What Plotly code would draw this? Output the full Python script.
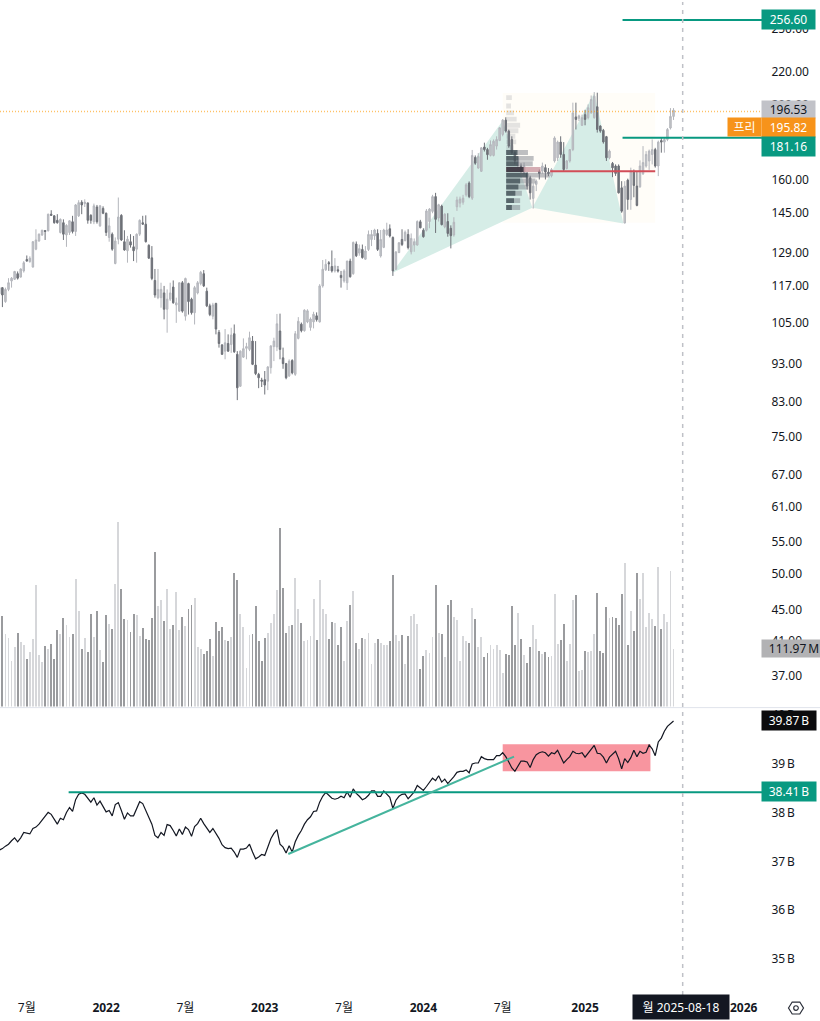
import pandas as pd
import plotly.graph_objects as go

W, H = 820, 1021

# weekly bars, 222 of them
weeks = pd.date_range("2021-05-03", periods=222, freq="7D")

highs = [
118.1,116.6,116.4,119.7,120.1,122.3,122.1,123.2,125.9,128.0,127.7,133.6,138.3,136.6,138.1,138.0,144.8,146.3,144.1,144.6,
142.8,142.4,140.4,142.0,143.9,149.0,150.7,150.7,151.1,149.6,144.6,149.2,148.6,148.6,148.0,145.3,143.1,137.0,135.0,151.9,
144.6,137.9,135.6,136.3,135.6,136.6,142.4,143.9,144.1,132.3,131.6,123.0,123.0,118.1,117.0,115.8,118.1,118.9,113.0,118.1,
118.7,119.9,118.1,113.0,117.0,118.7,122.3,122.6,116.4,111.0,111.3,111.3,102.7,98.4,103.0,101.4,103.4,104.4,96.5,96.7,
100.2,98.9,102.2,100.9,99.4,90.5,89.2,91.0,92.3,98.2,100.4,107.7,107.8,97.5,93.2,94.2,94.2,102.4,106.7,105.0,
109.2,109.2,106.6,108.4,108.2,117.6,126.3,126.6,125.9,129.9,127.0,124.1,122.3,122.9,126.0,126.8,133.4,133.4,132.2,132.2,
131.6,137.8,138.0,138.5,138.3,138.0,138.5,141.0,140.3,135.4,129.7,133.1,138.3,137.8,138.3,136.6,134.6,142.0,142.2,138.7,
146.8,147.2,153.1,154.0,149.1,148.7,145.0,145.0,139.9,143.3,152.3,152.3,153.1,158.5,159.3,174.8,172.0,173.2,176.3,178.6,
175.9,179.8,180.3,182.0,187.0,191.5,192.5,185.6,182.0,174.2,171.6,168.0,168.4,163.7,162.0,158.4,160.2,165.0,168.4,167.5,
165.7,165.7,182.0,179.7,182.0,178.9,169.7,175.3,201.0,201.0,194.0,194.0,196.8,200.0,205.3,207.4,207.0,188.0,186.0,182.2,
175.0,168.7,167.5,167.5,159.4,159.4,160.6,165.9,165.0,164.2,169.5,176.8,174.2,175.0,180.3,175.9,179.7,181.6,181.3,186.5,
197.8,197.8]
body_top = [
116.4,116.4,115.8,118.1,119.7,122.1,121.3,123.0,125.3,126.5,127.0,133.3,134.0,136.3,137.9,137.8,144.6,144.6,143.9,142.0,
142.4,141.0,139.9,141.8,141.4,148.6,149.6,149.8,149.8,149.5,144.1,148.2,147.7,148.2,147.1,145.0,139.7,136.3,133.6,143.4,
144.1,133.3,134.3,133.3,131.3,136.3,142.0,141.0,140.4,131.9,127.1,118.9,115.8,115.8,114.6,112.5,114.6,116.6,111.3,118.1,
118.1,119.6,117.8,112.5,116.4,118.1,121.8,121.3,115.2,110.3,110.6,111.1,102.0,98.3,98.9,98.7,101.2,101.6,95.6,96.5,
97.2,97.8,100.4,99.4,92.6,90.1,88.6,88.7,92.1,98.0,99.4,104.6,102.4,94.6,93.0,93.7,93.9,101.6,105.4,104.5,
108.9,108.7,106.1,107.6,107.1,117.0,122.9,124.7,125.3,123.9,124.1,122.7,120.7,122.3,125.9,125.9,133.0,132.4,130.6,130.3,
129.7,136.2,136.2,138.0,136.6,134.2,138.0,138.0,138.5,135.0,129.3,132.9,134.2,137.1,136.2,134.6,133.3,141.5,141.4,137.9,
146.0,146.8,152.3,152.3,148.7,148.1,144.6,141.5,138.7,141.2,150.8,151.2,151.6,157.7,158.5,172.0,171.0,171.5,175.9,176.3,
175.0,177.6,179.4,180.3,186.6,190.9,190.9,184.8,180.3,173.4,170.8,166.7,166.7,163.0,161.0,157.1,159.4,164.0,166.7,165.9,
163.7,165.0,181.1,178.9,178.9,172.5,169.2,175.0,195.0,192.7,193.3,192.3,194.0,198.0,202.9,204.9,198.6,187.6,185.2,181.8,
174.2,168.0,166.7,166.7,156.3,157.1,159.9,164.2,163.7,157.1,166.7,168.4,172.5,174.2,175.0,175.0,178.9,179.7,180.3,185.7,
193.0,196.53]
body_bottom = [
114.3,113.9,111.7,115.8,118.7,119.3,119.7,120.1,122.3,125.9,125.7,123.7,130.4,133.6,136.0,137.4,137.7,144.1,141.0,141.0,
137.0,136.3,136.0,137.0,137.4,137.4,143.9,148.6,149.2,142.0,142.0,141.4,141.4,139.7,145.0,137.0,135.0,130.4,125.0,134.3,
134.0,130.1,129.8,132.0,129.8,130.4,136.3,140.4,133.3,127.0,119.6,113.9,113.0,113.0,109.2,109.2,112.5,111.3,110.6,108.6,
108.6,107.0,111.7,108.1,108.1,114.6,117.8,117.0,110.3,107.5,107.0,103.0,98.7,95.6,96.5,96.5,98.4,96.3,86.6,87.0,
94.8,97.3,97.0,92.8,90.3,89.2,88.3,87.3,88.3,91.9,97.8,97.7,97.0,93.0,89.2,89.7,90.5,90.1,100.2,102.5,
102.5,105.2,103.5,105.2,105.9,105.2,117.0,122.7,124.9,122.3,122.3,122.3,119.9,118.7,118.1,120.2,121.3,127.9,128.9,127.2,
126.6,130.3,134.2,135.6,130.3,127.8,131.1,136.2,135.6,122.3,122.9,129.1,132.2,133.8,131.0,129.4,132.0,132.0,138.9,135.3,
137.9,141.5,145.8,142.4,143.0,140.2,139.3,136.6,135.7,136.0,147.8,149.4,149.8,153.1,152.3,151.6,168.1,165.7,164.1,175.0,
172.4,172.0,172.0,176.8,179.8,183.0,184.8,176.8,173.4,169.2,166.7,164.2,163.4,157.1,154.0,151.5,157.9,163.0,164.2,163.8,
163.0,162.0,169.2,170.8,172.5,165.0,165.5,169.2,175.0,191.3,191.9,188.0,191.3,192.3,195.0,192.3,185.7,184.8,179.0,170.8,
170.8,165.8,163.1,154.0,145.9,140.9,151.0,151.0,157.4,148.4,156.8,162.9,166.7,169.2,172.5,166.7,166.7,178.9,178.9,180.3,
186.5,193.0]
lows = [
113.5,109.9,111.3,115.2,116.4,119.2,119.2,119.9,121.7,125.7,125.3,123.5,130.0,133.3,135.6,134.0,137.4,143.9,140.6,140.6,
136.6,134.0,131.3,136.0,136.6,135.6,143.4,144.6,147.7,140.6,140.6,140.4,140.6,139.3,144.6,135.6,133.3,129.8,124.7,132.3,
133.6,129.8,125.3,131.0,125.9,125.3,135.6,140.1,133.0,126.7,119.0,113.0,112.5,109.7,106.0,101.9,111.9,111.0,104.9,108.4,
108.1,105.6,107.5,107.5,104.4,114.1,117.2,116.6,109.9,107.0,106.0,101.4,97.5,95.4,94.2,96.3,96.0,96.0,83.5,86.8,
94.6,94.2,96.5,92.6,89.9,86.5,86.8,84.9,86.0,90.3,93.7,96.5,94.2,91.6,88.8,89.4,90.1,89.7,99.9,102.0,
102.2,104.8,102.5,103.2,105.3,105.0,116.4,122.3,122.3,121.7,121.7,121.7,116.4,118.1,115.6,119.9,120.9,127.4,127.9,126.8,
126.4,129.7,131.6,134.0,129.7,127.2,130.8,135.6,135.0,120.5,122.7,128.9,131.6,133.4,130.3,128.4,129.4,131.8,138.7,134.9,
137.4,138.7,145.0,136.8,141.5,139.9,138.7,135.3,130.7,135.3,146.0,147.5,148.7,152.3,151.6,150.8,167.3,165.4,163.8,174.0,
169.8,171.5,171.5,175.0,179.4,182.0,184.0,175.9,172.5,167.5,165.0,163.4,162.6,155.5,151.0,147.0,154.8,160.2,163.0,160.2,
161.8,161.2,168.4,169.2,170.8,164.2,165.0,168.4,174.2,185.7,190.4,187.6,188.0,191.3,194.6,191.7,184.0,183.9,178.1,169.2,
170.0,161.3,161.9,153.7,145.2,140.7,146.5,146.5,152.0,148.0,156.3,162.4,165.9,164.8,167.5,165.9,161.8,173.4,173.4,179.4,
185.7,191.0]

# bar numbers that closed down (dark candle and dark volume)
down_bars = [
1,6,9,15,17,18,19,21,24,27,29,30,32,34,35,37,40,41,43,44,47,48,49,50,51,54,57,60,62,63,67,68,69,71,72,73,75,77,78,
83,84,85,86,87,92,93,94,96,99,104,108,109,111,112,115,117,119,124,128,129,132,134,138,139,143,145,147,148,154,156,159,160,
166,167,168,169,171,173,174,177,179,180,184,185,189,192,196,197,198,199,201,202,203,204,206,208,209,215,217]

volume_m = [
154,177,141,133,89,115,144,126,120,93,106,131,237,101,87,118,113,122,92,149,
141,172,159,136,141,248,185,113,133,107,180,135,186,110,87,179,160,150,239,359,
228,171,168,145,181,178,138,153,132,129,173,301,195,207,167,229,151,159,223,149,
175,157,189,197,212,116,112,102,109,131,98,164,148,154,129,127,135,259,247,181,
155,75,140,141,196,128,88,133,144,162,180,226,348,231,144,157,159,250,190,162,
127,129,138,209,130,246,190,181,131,164,162,119,154,89,166,198,225,124,113,134,
131,144,82,124,131,123,120,120,128,256,140,127,140,83,137,177,180,160,73,99,
110,104,135,237,143,142,97,198,208,175,168,89,138,128,123,192,171,115,136,96,
105,120,113,120,110,65,102,100,195,119,182,131,101,85,116,159,131,109,102,107,
97,99,219,122,129,160,88,122,208,217,69,72,109,107,109,141,220,109,105,194,
172,175,173,158,219,280,120,186,148,259,210,259,155,182,171,156,272,150,181,165,
263,111.97]

# lower pane, billions
indicator_b = [
37.23,37.26,37.31,37.35,37.42,37.48,37.40,37.48,37.59,37.58,37.56,37.67,37.70,37.76,37.84,37.91,38.00,37.96,37.87,37.76,
37.88,37.85,38.00,38.10,38.02,38.26,38.37,38.40,38.37,38.28,38.21,38.30,38.15,38.23,38.12,38.01,38.04,37.93,38.16,38.20,
38.04,37.86,37.99,37.93,37.93,38.08,38.22,38.18,38.04,37.91,37.76,37.53,37.48,37.59,37.53,37.75,37.73,37.63,37.52,37.66,
37.55,37.70,37.65,37.51,37.71,37.77,37.88,37.77,37.68,37.59,37.67,37.57,37.47,37.34,37.28,37.26,37.27,37.19,37.08,37.25,
37.25,37.27,37.35,37.19,37.05,37.09,37.14,37.12,37.29,37.46,37.57,37.65,37.35,37.29,37.17,37.32,37.19,37.40,37.53,37.63,
37.76,37.85,37.91,38.02,38.03,38.21,38.33,38.41,38.35,38.29,38.27,38.29,38.33,38.30,38.42,38.31,38.48,38.39,38.33,38.26,
38.29,38.35,38.44,38.44,38.33,38.33,38.44,38.38,38.31,38.08,38.25,38.33,38.37,38.38,38.28,38.35,38.42,38.55,38.50,38.45,
38.53,38.62,38.70,38.65,38.75,38.62,38.68,38.59,38.65,38.73,38.82,38.84,38.84,38.87,38.81,38.99,39.01,39.01,39.14,39.10,
39.08,39.08,39.08,39.16,39.16,39.22,39.14,39.03,38.91,38.84,38.96,39.05,39.05,39.03,38.92,39.08,39.18,39.22,39.24,39.22,
39.15,39.22,39.20,39.27,39.14,39.01,39.08,39.14,39.25,39.21,39.20,39.22,39.13,39.21,39.29,39.37,39.21,39.20,39.13,39.01,
39.13,39.20,39.25,39.10,38.89,39.10,39.02,39.12,39.27,39.14,39.25,39.21,39.23,39.38,39.30,39.16,39.44,39.52,39.66,39.76,
39.81,39.87]

price_ticks = [250, 220, 200, 160, 145, 129, 117, 105, 93, 83, 75, 67, 61, 55, 50, 45, 41, 37]
indicator_ticks = [40, 39, 38, 37, 36, 35]
time_ticks = ["2021-07-05", "2022-01-03", "2022-07-04", "2023-01-02", "2023-07-03", "2024-01-01", "2024-07-01", "2025-01-06", "2026-01-05"]
time_labels = ["7월", "<b>2022</b>", "7월", "<b>2023</b>", "7월", "<b>2024</b>", "7월", "<b>2025</b>", "<b>2026</b>"]

# drawings on the chart
pattern_dates = ["2023-10-21", "2024-07-01", "2024-09-07", "2025-01-27", "2025-04-04"]
pattern_prices = [121.5, 190.5, 147.4, 206.8, 140.7]
pattern_end = "2025-06-16"
target_high = 256.60
target_low = 181.16
target_start = "2025-04-02"
poc_price = 164.2
poc_start = "2024-10-18"
prepost_price = 195.82
support_b = 38.41
support_start = "2021-10-09"
trend_dates = ["2023-02-25", "2024-07-27"]
trend_values = [37.15, 39.14]
box_dates = ["2024-07-01", "2025-06-05"]
box_values = [38.84, 39.395]
cross_date = "2025-08-18"

# volume profile rows, top to bottom: price, dark part and full length in days
profile_start = "2024-07-09"
profile_price = [204.0, 199.0, 195.0, 191.5, 188.0, 185.0, 182.0, 179.0, 176.0, 173.5, 170.5, 167.8, 165.0, 162.3, 159.5, 156.7, 153.8, 150.5, 147.5]
profile_dark = [0, 0, 0, 0, 0, 0, 0, 0, 0, 26, 28, 28, 40, 49, 32, 28, 21, 18, 13]
profile_full = [13, 11, 18, 24, 32, 28, 21, 23, 17, 50, 63, 61, 79, 100, 67, 51, 36, 32, 32]


def px(x):
    return x / W


def py(y):
    return 1 - y / H


plot_right = px(762)
font_name = "Noto Sans, Noto Sans CJK KR"
teal = "#089981"

down_set = set(down_bars)
opens = [body_top[i] if i in down_set else body_bottom[i] for i in range(len(weeks))]
closes = [body_bottom[i] if i in down_set else body_top[i] for i in range(len(weeks))]
vol_colors = ["#9a9b9e" if i in down_set else "#d6d7da" for i in range(len(weeks))]

fig = go.Figure()

fig.add_trace(go.Bar(x=weeks, y=volume_m, width=375000000, marker_color=vol_colors, marker_line_width=0, yaxis="y2", showlegend=False))
fig.add_trace(go.Candlestick(
    x=weeks, open=opens, high=highs, low=lows, close=closes, yaxis="y", showlegend=False,
    increasing=dict(line=dict(color="#b4b6bc", width=1), fillcolor="#c3c5ca"),
    decreasing=dict(line=dict(color="#6e7178", width=1), fillcolor="#6e7178"),
))
fig.add_trace(go.Scatter(x=weeks, y=indicator_b, mode="lines", line=dict(color="#131722", width=1.2), yaxis="y3", showlegend=False))

shapes = []
# light backdrop of the pattern
shapes.append(dict(type="rect", xref="x", yref="y", x0="2024-07-01", x1=pattern_end, y0=141, y1=206.8, layer="below", fillcolor="#fffdf8", line_width=0))


def triangle(a, b, c):
    p = "M %s,%s L %s,%s L %s,%s Z" % (pattern_dates[a], pattern_prices[a], pattern_dates[b], pattern_prices[b], pattern_dates[c], pattern_prices[c])
    return dict(type="path", path=p, xref="x", yref="y", layer="below", fillcolor="#d6ede7", line_width=0)


shapes.append(triangle(0, 1, 2))
shapes.append(triangle(2, 3, 4))

# volume profile
start = pd.Timestamp(profile_start)
half = 0.0072
for i, price in enumerate(profile_price):
    y0 = price * (1 - half)
    y1 = price * (1 + half)
    poc = abs(price - 165.0) < 0.01
    in_area = profile_dark[i] > 0
    if in_area:
        outer = "rgba(190,130,140,0.65)" if poc else "rgba(120,123,134,0.48)"
    else:
        outer = "rgba(120,123,134,0.2)"
    shapes.append(dict(type="rect", xref="x", yref="y", x0=start, x1=start + pd.Timedelta(days=profile_full[i]), y0=y0, y1=y1, fillcolor=outer, line_width=0))
    if in_area:
        inner = "rgba(45,45,55,0.85)" if poc else "rgba(55,70,78,0.72)"
        shapes.append(dict(type="rect", xref="x", yref="y", x0=start, x1=start + pd.Timedelta(days=profile_dark[i]), y0=y0, y1=y1, fillcolor=inner, line_width=0))

# horizontal levels
shapes.append(dict(type="line", xref="paper", yref="y", x0=0, x1=plot_right, y0=prepost_price, y1=prepost_price, line=dict(color="rgba(255,152,0,0.6)", width=1.5, dash="1px,2px")))
shapes.append(dict(type="line", xref="x", yref="y", x0=poc_start, x1=pattern_end, y0=poc_price, y1=poc_price, line=dict(color="#d24d57", width=2)))
for lvl in [target_high, target_low]:
    shapes.append(dict(type="line", xref="x", yref="y", x0=target_start, x1="2026-02-16", y0=lvl, y1=lvl, line=dict(color=teal, width=2)))

# lower pane drawings
shapes.append(dict(type="rect", xref="x", yref="y3", x0=box_dates[0], x1=box_dates[1], y0=box_values[0], y1=box_values[1], layer="below", fillcolor="#f8959f", line_width=0))
shapes.append(dict(type="line", xref="x", yref="y3", x0=support_start, x1="2026-02-16", y0=support_b, y1=support_b, line=dict(color=teal, width=2)))
shapes.append(dict(type="line", xref="x", yref="y3", x0=trend_dates[0], x1=trend_dates[1], y0=trend_values[0], y1=trend_values[1], line=dict(color="#45b49d", width=2)))

# pane separator and crosshair
shapes.append(dict(type="line", xref="paper", yref="paper", x0=0, x1=1, y0=py(707), y1=py(707), line=dict(color="#e0e3eb", width=1)))
shapes.append(dict(type="line", xref="x", yref="paper", x0=cross_date, x1=cross_date, y0=py(995), y1=1, line=dict(color="#bfc1c7", width=1.5, dash="4px,5px")))

# settings icon
cx, cy = 796, 1008
hex_pts = [(-7.5, 0), (-3.8, -6), (3.8, -6), (7.5, 0), (3.8, 6), (-3.8, 6)]
hex_path = "M " + " L ".join("%.5f,%.5f" % (px(cx + a), py(cy + b)) for a, b in hex_pts) + " Z"
shapes.append(dict(type="path", path=hex_path, xref="paper", yref="paper", line=dict(color="#2a2e39", width=1.2)))
shapes.append(dict(type="circle", xref="paper", yref="paper", x0=px(cx - 2.3), x1=px(cx + 2.3), y0=py(cy + 2.3), y1=py(cy - 2.3), line=dict(color="#2a2e39", width=1.2)))


def label(x0, x1, y0, y1, text, bg, color="white"):
    return dict(xref="paper", yref="paper", x=px((x0 + x1) / 2), y=py((y0 + y1) / 2), xanchor="center", yanchor="middle",
                width=x1 - x0, height=y1 - y0, text=text, showarrow=False, bgcolor=bg, borderpad=0,
                font=dict(family=font_name, size=12, color=color))


annotations = [
    label(762, 815, 8, 27, "256.60", teal),
    label(762, 815, 99, 116, "196.53", "#c1c2c8", "#131722"),
    label(728, 761, 116, 134, "프리", "#f7931a"),
    label(762, 815, 116, 135, "195.82", "#f7931a"),
    label(762, 815, 135, 154, "181.16", teal),
    label(762, 820, 639, 656, "\u2009\u2009\u2009111.97\u2009M", "#b2b2b4", "#131722"),
    label(762, 816, 710, 729, "39.87\u2009B", "#0b0b0d"),
    label(762, 816, 782, 801, "38.41\u2009B", teal),
    label(633, 729, 995, 1019, "월 2025-08-18", "#131722"),
]

fig.update_layout(
    width=W,
    height=H,
    margin=dict(l=0, r=0, t=0, b=0),
    paper_bgcolor="white",
    plot_bgcolor="white",
    font=dict(family=font_name, size=12, color="#131722"),
    showlegend=False,
    bargap=0,
    shapes=shapes,
    annotations=annotations,
    xaxis=dict(
        domain=[0, plot_right], anchor="y3", type="date", range=["2021-05-04 12:00", "2026-02-16"],
        tickmode="array", tickvals=time_ticks, ticktext=time_labels, ticks="outside", ticklen=2, tickcolor="white",
        showgrid=False, zeroline=False, showline=False, rangeslider=dict(visible=False), tickangle=0,
    ),
    yaxis=dict(
        domain=[py(706), 1], type="log", range=[1.5286, 2.4323], side="right", anchor="x",
        tickmode="array", tickvals=price_ticks, ticktext=["%.2f" % t for t in price_ticks],
        showgrid=False, zeroline=False, showline=False, ticks="outside", ticklen=6, tickcolor="white",
    ),
    yaxis2=dict(domain=[py(706), 1], overlaying="y", range=[0, 1370], visible=False, anchor="x"),
    yaxis3=dict(
        domain=[py(995), py(707)], range=[34.265, 40.143], side="right", anchor="x",
        tickmode="array", tickvals=indicator_ticks, ticktext=["%d\u2009B" % t for t in indicator_ticks],
        showgrid=False, zeroline=False, showline=False, ticks="outside", ticklen=6, tickcolor="white",
    ),
)

fig.write_html("out.html", config={"displayModeBar": False, "staticPlot": True}, post_script="document.body.style.margin='0';")
